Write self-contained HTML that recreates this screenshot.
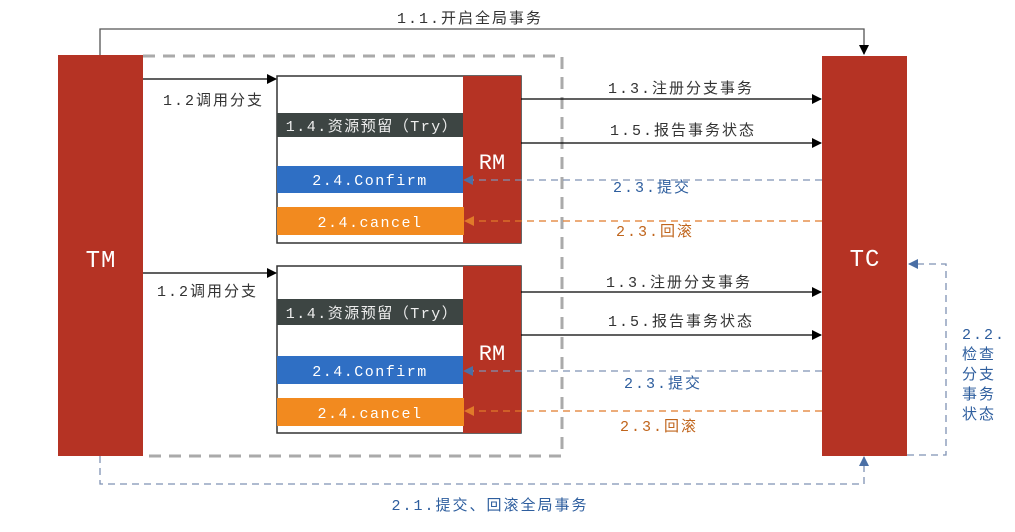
<!DOCTYPE html>
<html><head><meta charset="utf-8"><style>
body{margin:0;background:#fff}
text{font-family:"Liberation Mono","Noto Sans CJK SC",monospace;font-size:15px;letter-spacing:2px}
</style></head><body>
<svg width="1015" height="527" viewBox="0 0 1015 527" xmlns="http://www.w3.org/2000/svg">
<defs>
<marker id="ak" markerWidth="10" markerHeight="10" refX="9" refY="5" orient="auto" markerUnits="userSpaceOnUse"><path d="M0,0L10,5L0,10z" fill="#000"/></marker>
<marker id="ab" markerWidth="10" markerHeight="10" refX="9" refY="5" orient="auto" markerUnits="userSpaceOnUse"><path d="M0,0L10,5L0,10z" fill="#4a6fa5"/></marker>
<marker id="ao" markerWidth="10" markerHeight="10" refX="9" refY="5" orient="auto" markerUnits="userSpaceOnUse"><path d="M0,0L10,5L0,10z" fill="#e07a2a"/></marker>
</defs>
<path d="M100,56V29H864V54" fill="none" stroke="#555" stroke-width="1.3" marker-end="url(#ak)"/>
<text x="470" y="23" text-anchor="middle" fill="#333">1.1.开启全局事务</text>
<path d="M143,56H562V456H143" fill="none" stroke="#aaa" stroke-width="3" stroke-dasharray="12,8"/>
<rect x="58" y="55" width="85" height="401" fill="#b53324"/>
<text x="101" y="267" text-anchor="middle" fill="#fff" style="font-size:24px;letter-spacing:1px">TM</text>
<rect x="822" y="56" width="85" height="400" fill="#b53324"/>
<text x="865" y="266" text-anchor="middle" fill="#fff" style="font-size:24px;letter-spacing:1px">TC</text>

<rect x="277" y="76" width="244" height="167" fill="#fff" stroke="#333" stroke-width="1.5"/>
<rect x="463" y="76" width="58" height="167" fill="#b53324"/>
<text x="492" y="169" text-anchor="middle" fill="#fff" style="font-size:22px;letter-spacing:0">RM</text>
<rect x="277" y="113" width="186" height="24" fill="#3d4543"/>
<text x="372" y="131" text-anchor="middle" fill="#eee" style="letter-spacing:1.5px">1.4.资源预留（Try）</text>
<rect x="277" y="166" width="186" height="27" fill="#2f6fc4"/>
<text x="370" y="185" text-anchor="middle" fill="#fff" style="letter-spacing:1.5px">2.4.Confirm</text>
<rect x="277" y="207" width="187" height="28" fill="#f28a1f"/>
<text x="370" y="227" text-anchor="middle" fill="#fff" style="letter-spacing:1.5px">2.4.cancel</text>
<line x1="143" y1="79" x2="276" y2="79" stroke="#000" stroke-width="1.3" marker-end="url(#ak)"/>
<text x="163" y="105" fill="#333">1.2调用分支</text>
<line x1="521" y1="99" x2="821" y2="99" stroke="#000" stroke-width="1.3" marker-end="url(#ak)"/>
<text x="681" y="93" text-anchor="middle" fill="#333">1.3.注册分支事务</text>
<line x1="521" y1="143" x2="821" y2="143" stroke="#000" stroke-width="1.3" marker-end="url(#ak)"/>
<text x="683" y="135" text-anchor="middle" fill="#333">1.5.报告事务状态</text>
<line x1="822" y1="180" x2="464" y2="180" stroke="#7f92b3" stroke-width="1.3" stroke-dasharray="7,5" marker-end="url(#ab)"/>
<text x="652" y="192" text-anchor="middle" fill="#2e5e9e">2.3.提交</text>
<line x1="822" y1="221" x2="465" y2="221" stroke="#e07a2a" stroke-width="1.3" stroke-dasharray="7,5" marker-end="url(#ao)"/>
<text x="655" y="236" text-anchor="middle" fill="#c0651c">2.3.回滚</text>

<rect x="277" y="266" width="244" height="167" fill="#fff" stroke="#333" stroke-width="1.5"/>
<rect x="463" y="266" width="58" height="167" fill="#b53324"/>
<text x="492" y="360" text-anchor="middle" fill="#fff" style="font-size:22px;letter-spacing:0">RM</text>
<rect x="277" y="299" width="186" height="26" fill="#3d4543"/>
<text x="372" y="318" text-anchor="middle" fill="#eee" style="letter-spacing:1.5px">1.4.资源预留（Try）</text>
<rect x="277" y="356" width="186" height="28" fill="#2f6fc4"/>
<text x="370" y="376" text-anchor="middle" fill="#fff" style="letter-spacing:1.5px">2.4.Confirm</text>
<rect x="277" y="398" width="187" height="28" fill="#f28a1f"/>
<text x="370" y="418" text-anchor="middle" fill="#fff" style="letter-spacing:1.5px">2.4.cancel</text>
<line x1="143" y1="273" x2="276" y2="273" stroke="#000" stroke-width="1.3" marker-end="url(#ak)"/>
<text x="157" y="296" fill="#333">1.2调用分支</text>
<line x1="521" y1="292" x2="821" y2="292" stroke="#000" stroke-width="1.3" marker-end="url(#ak)"/>
<text x="679" y="287" text-anchor="middle" fill="#333">1.3.注册分支事务</text>
<line x1="521" y1="335" x2="821" y2="335" stroke="#000" stroke-width="1.3" marker-end="url(#ak)"/>
<text x="681" y="326" text-anchor="middle" fill="#333">1.5.报告事务状态</text>
<line x1="822" y1="371" x2="464" y2="371" stroke="#7f92b3" stroke-width="1.3" stroke-dasharray="7,5" marker-end="url(#ab)"/>
<text x="663" y="388" text-anchor="middle" fill="#2e5e9e">2.3.提交</text>
<line x1="822" y1="411" x2="465" y2="411" stroke="#e07a2a" stroke-width="1.3" stroke-dasharray="7,5" marker-end="url(#ao)"/>
<text x="659" y="431" text-anchor="middle" fill="#c0651c">2.3.回滚</text>

<path d="M907,455H946V264H909" fill="none" stroke="#7f92b3" stroke-width="1.3" stroke-dasharray="7,5" marker-end="url(#ab)"/>
<g fill="#2e5e9e"><text x="962" y="339">2.2.</text><text x="962" y="359">检查</text><text x="962" y="379">分支</text><text x="962" y="399">事务</text><text x="962" y="419">状态</text></g>
<path d="M100,456V484H864V457" fill="none" stroke="#7f92b3" stroke-width="1.3" stroke-dasharray="7,5" marker-end="url(#ab)"/>
<text x="490" y="510" text-anchor="middle" fill="#2e5e9e">2.1.提交、回滚全局事务</text>
</svg>
</body></html>
